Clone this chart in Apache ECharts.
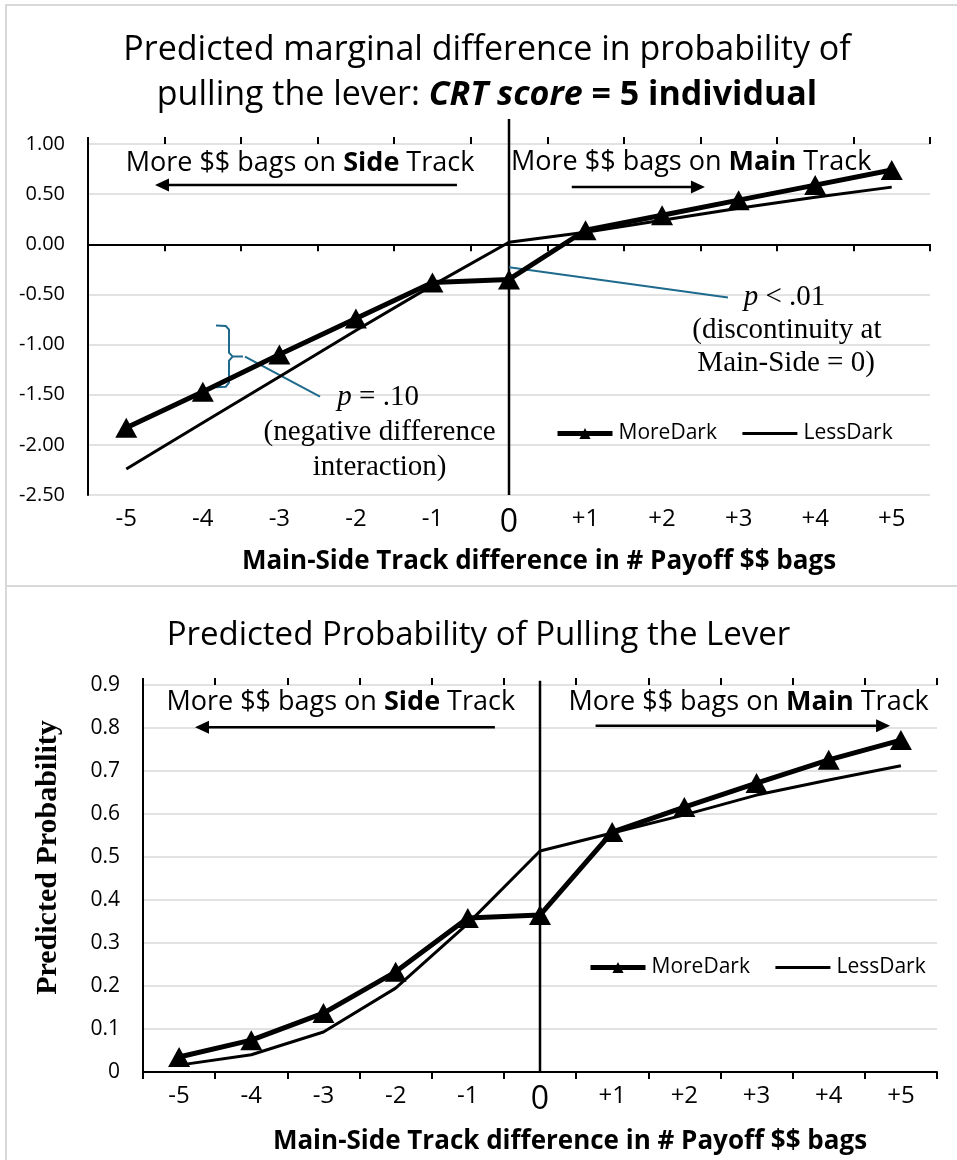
<!DOCTYPE html>
<html>
<head>
<meta charset="utf-8">
<title>Predicted probability of pulling the lever</title>
<script src="https://cdn.jsdelivr.net/npm/echarts@6/dist/echarts.min.js"></script>
<style>
  html, body { margin: 0; padding: 0; background: #fff; }
  #main { width: 957px; height: 1160px; }
</style>
</head>
<body>
<div id="main"></div>
<script>
// Main-Side track difference in # payoff $$ bags
const categories = ["-5", "-4", "-3", "-2", "-1", "0", "+1", "+2", "+3", "+4", "+5"];

// top chart: predicted marginal difference, CRT score = 5
const diffMoreDark = [-1.83, -1.47, -1.10, -0.74, -0.38, -0.35, 0.14, 0.29, 0.44, 0.59, 0.74];
const diffLessDark = [-2.24, -1.78, -1.32, -0.86, -0.41, 0.02, 0.12, 0.24, 0.36, 0.47, 0.57];

// bottom chart: predicted probability
const probMoreDark = [0.035, 0.074, 0.137, 0.233, 0.358, 0.365, 0.558, 0.616, 0.672, 0.726, 0.772];
const probLessDark = [0.016, 0.040, 0.093, 0.195, 0.345, 0.514, 0.556, 0.598, 0.644, 0.679, 0.712];

// y axis ranges: [min, max, step]
const diffAxis = [-2.5, 1.0, 0.5];
const probAxis = [0, 0.9, 0.1];

const SANS = '"Open Sans", "Noto Sans", sans-serif';
const SERIF = '"Liberation Serif", "DejaVu Serif", serif';
const BLUE = '#1e6a8d';
const GRID_GRAY = '#d9d9d9';

const chart = echarts.init(document.getElementById('main'));

// three x axes per grid: line with down ticks, up ticks, and labels at the bottom
function xAxesFor(gridIndex, nameGap) {
  const tickLine = { color: '#000', width: 2 };
  return [
    {
      type: 'category', gridIndex: gridIndex, data: categories, position: 'bottom',
      axisLine: { show: true, onZero: true, lineStyle: tickLine },
      axisTick: { show: true, length: 7, lineStyle: tickLine },
      axisLabel: { show: false }, splitLine: { show: false }
    },
    {
      type: 'category', gridIndex: gridIndex, data: categories, position: 'top',
      axisLine: { show: false, onZero: true },
      axisTick: { show: true, length: 7, lineStyle: tickLine },
      axisLabel: { show: false }, splitLine: { show: false }
    },
    {
      type: 'category', gridIndex: gridIndex, data: categories, position: 'bottom',
      axisLine: { show: false, onZero: false },
      axisTick: { show: false },
      splitLine: { show: false },
      axisLabel: {
        interval: 0, margin: 12, color: '#000', fontFamily: SANS, fontSize: 24,
        formatter: function (v) { return v === '0' ? '{z|0}' : v; },
        rich: { z: { fontSize: 32, fontFamily: SANS, color: '#000' } }
      },
      name: 'Main-Side Track difference in # Payoff $$ bags',
      nameLocation: 'middle',
      nameGap: nameGap,
      nameTextStyle: {
        fontFamily: SANS, fontWeight: 'bold', fontSize: 26, color: '#000',
        padding: [0, 0, 0, 60]
      }
    }
  ];
}

const legendBase = {
  itemWidth: 55, itemHeight: 14, itemGap: 24, orient: 'horizontal', padding: 0,
  textStyle: { fontFamily: SANS, fontSize: 21, color: '#000', padding: [0, 0, 0, 1] },
  selectedMode: false,
  data: [
    { name: 'MoreDark', lineStyle: { width: 5, color: '#000' } },
    { name: 'LessDark', lineStyle: { width: 3, color: '#000' }, itemStyle: { opacity: 0 } }
  ]
};

chart.setOption({
  animation: false,
  backgroundColor: '#fff',
  title: [
    {
      text: 'Predicted marginal difference in probability of\npulling the lever: {bi|CRT score} {b|= 5 individual}',
      left: 487, top: 28, textAlign: 'center', padding: 0,
      textStyle: {
        fontFamily: SANS, fontSize: 34, fontWeight: 'normal', color: '#000', lineHeight: 45,
        rich: {
          bi: { fontFamily: SANS, fontSize: 34, fontWeight: 'bold', fontStyle: 'italic', color: '#000', lineHeight: 45 },
          b: { fontFamily: SANS, fontSize: 34, fontWeight: 'bold', color: '#000', lineHeight: 45 }
        }
      }
    },
    {
      text: 'Predicted Probability of Pulling the Lever',
      left: 'center', top: 610,
      textStyle: { fontFamily: SANS, fontSize: 33, fontWeight: 'normal', color: '#000', lineHeight: 42 }
    }
  ],
  legend: [
    Object.assign({}, legendBase, { left: 555, top: 423 }),
    Object.assign({}, legendBase, { left: 588, top: 957 })
  ],
  grid: [
    { left: 88, right: 27, top: 144, bottom: 665 },
    { left: 143, right: 20, top: 685, bottom: 88 }
  ],
  xAxis: xAxesFor(0, 54).concat(xAxesFor(1, 57)),
  yAxis: [
    {
      type: 'value', gridIndex: 0, min: diffAxis[0], max: diffAxis[1], interval: diffAxis[2],
      axisLine: { show: true, lineStyle: { color: '#000', width: 2 } },
      axisTick: { show: false },
      splitLine: { show: true, lineStyle: { color: GRID_GRAY, width: 1.5 } },
      axisLabel: {
        margin: 23, color: '#000', fontFamily: SANS, fontSize: 20,
        formatter: function (v) { return v.toFixed(2); }
      }
    },
    {
      type: 'value', gridIndex: 1, min: probAxis[0], max: probAxis[1], interval: probAxis[2],
      axisLine: { show: true, lineStyle: { color: '#000', width: 2 } },
      axisTick: { show: false },
      splitLine: { show: true, lineStyle: { color: GRID_GRAY, width: 1.5 } },
      axisLabel: {
        margin: 23, color: '#000', fontFamily: SANS, fontSize: 21,
        formatter: function (v) { return Math.abs(v) < 1e-9 ? '0' : v.toFixed(1); }
      },
      name: 'Predicted Probability',
      nameLocation: 'middle',
      nameGap: 80,
      nameTextStyle: { fontFamily: SERIF, fontWeight: 'bold', fontSize: 30, color: '#000', padding: [0, 0, 0, 42] }
    }
  ],
  series: [
    {
      name: 'LessDark', type: 'line', xAxisIndex: 0, yAxisIndex: 0, data: diffLessDark,
      symbol: 'none', z: 3,
      lineStyle: { color: '#000', width: 3 }, itemStyle: { color: '#000' }
    },
    {
      name: 'MoreDark', type: 'line', xAxisIndex: 0, yAxisIndex: 0, data: diffMoreDark,
      symbol: 'triangle', symbolSize: [22, 20], showSymbol: true, z: 4,
      lineStyle: { color: '#000', width: 5 }, itemStyle: { color: '#000' }
    },
    {
      name: 'LessDark', type: 'line', xAxisIndex: 3, yAxisIndex: 1, data: probLessDark,
      symbol: 'none', z: 3,
      lineStyle: { color: '#000', width: 3 }, itemStyle: { color: '#000' }
    },
    {
      name: 'MoreDark', type: 'line', xAxisIndex: 3, yAxisIndex: 1, data: probMoreDark,
      symbol: 'triangle', symbolSize: [22, 20], showSymbol: true, z: 4,
      lineStyle: { color: '#000', width: 5 }, itemStyle: { color: '#000' }
    }
  ]
});

// map (fractional category index, value) to pixels for a grid
function mapper(finder) {
  const a = chart.convertToPixel(finder, [0, 0]);
  const b = chart.convertToPixel(finder, [1, 1]);
  return function (i, v) { return [a[0] + (b[0] - a[0]) * i, a[1] + (b[1] - a[1]) * v]; };
}
const upper = mapper({ xAxisIndex: 0, yAxisIndex: 0 });
const lower = mapper({ xAxisIndex: 3, yAxisIndex: 1 });

function line(p0, p1, color, width) {
  return { type: 'line', z: 1, shape: { x1: p0[0], y1: p0[1], x2: p1[0], y2: p1[1] },
    style: { stroke: color, lineWidth: width } };
}
function arrow(p0, p1) {
  const dx = p1[0] - p0[0], dy = p1[1] - p0[1];
  const len = Math.hypot(dx, dy), ux = dx / len, uy = dy / len;
  const hl = 14, hw = 6.5;
  const base = [p1[0] - ux * hl, p1[1] - uy * hl];
  return [
    line(p0, base, '#000', 2.5),
    { type: 'polygon', z: 1, shape: { points: [p1, [base[0] - uy * hw, base[1] + ux * hw], [base[0] + uy * hw, base[1] - ux * hw]] },
      style: { fill: '#000' } }
  ];
}
function label(p, text, font, rich) {
  return { type: 'text', z: 1, x: p[0], y: p[1],
    style: { text: text, font: font, fill: '#000', align: 'center', verticalAlign: 'middle',
      textAlign: 'center', textVerticalAlign: 'middle', rich: rich || {} } };
}

const sansRich = { b: { fontFamily: SANS, fontSize: 27, fontWeight: 'bold', fill: '#000' } };
const serifRich = { i: { fontFamily: SERIF, fontSize: 29, fontStyle: 'italic', fill: '#000' } };
const sansFont = '27px ' + SANS;
const serifFont = '29px ' + SERIF;

const g = [
  // frames round the two charts
  { type: 'rect', z: 0, shape: { x: 6, y: 5, width: 960, height: 581 }, style: { fill: 'none', stroke: GRID_GRAY, lineWidth: 2 } },
  { type: 'rect', z: 0, shape: { x: 6, y: 586, width: 960, height: 590 }, style: { fill: 'none', stroke: GRID_GRAY, lineWidth: 2 } },

  // top chart
  line(upper(5, -2.5), upper(5, 1.25), '#000', 2.5),
  label(upper(2.27, 0.81), 'More $$ bags on {b|Side} Track', sansFont, sansRich),
  label(upper(7.38, 0.82), 'More $$ bags on {b|Main} Track', sansFont, sansRich),
  line(upper(5, -0.23), upper(7.86, -0.53), BLUE, 2),
  label(upper(8.6, -0.53), '{i|p} < .01', serifFont, serifRich),
  label(upper(8.63, -0.86), '(discontinuity at', serifFont),
  label(upper(8.62, -1.19), 'Main-Side = 0)', serifFont),
  { type: 'polyline', z: 1, shape: { points: [
      upper(1.172, -0.81), upper(1.30, -0.815), upper(1.342, -0.85), upper(1.342, -1.08), upper(1.39, -1.12), upper(1.525, -1.12),
      upper(1.39, -1.12), upper(1.342, -1.16), upper(1.342, -1.38), upper(1.30, -1.42), upper(1.172, -1.425)
    ] }, style: { stroke: BLUE, lineWidth: 2, fill: 'none' } },
  line(upper(1.551, -1.12), upper(2.531, -1.52), BLUE, 2),
  label(upper(3.29, -1.53), '{i|p} = .10', serifFont, serifRich),
  label(upper(3.31, -1.88), '(negative difference', serifFont),
  label(upper(3.31, -2.22), 'interaction)', serifFont),

  // bottom chart
  line(lower(5, 0), lower(5, 0.91), '#000', 2.5),
  label(lower(2.24, 0.86), 'More $$ bags on {b|Side} Track', sansFont, sansRich),
  label(lower(7.89, 0.86), 'More $$ bags on {b|Main} Track', sansFont, sansRich)
]
  .concat(arrow(upper(4.32, 0.59), upper(0.375, 0.59)))
  .concat(arrow(upper(5.82, 0.57), upper(7.56, 0.57)))
  .concat(arrow(lower(4.375, 0.802), lower(0.22, 0.802)))
  .concat(arrow(lower(5.77, 0.805), lower(9.85, 0.805)));

chart.setOption({ graphic: { elements: g } });
</script>
</body>
</html>
